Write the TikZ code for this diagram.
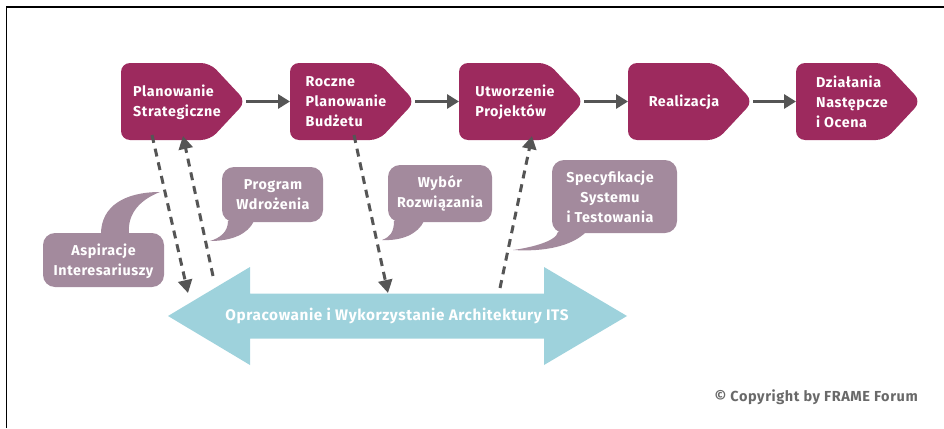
\documentclass[tikz,border=0pt]{standalone}
\usepackage{fontspec}
\setmainfont{Fira Sans}[LetterSpace=4]
\usetikzlibrary{arrows.meta}
\definecolor{stagecol}{RGB}{157,42,94}
\definecolor{notecol}{RGB}{163,138,157}
\definecolor{archcol}{RGB}{158,210,220}
\definecolor{linkcol}{RGB}{85,85,85}
\definecolor{copycol}{RGB}{105,105,105}
\tikzset{
  stagetext/.style={text=white, font=\bfseries\fontsize{14.3}{20}\selectfont, align=left, inner sep=0pt},
  notetext/.style={text=white, font=\bfseries\fontsize{14.3}{20}\selectfont, align=center, inner sep=0pt},
  flow/.style={draw=linkcol, line width=3pt, -{Triangle[length=12pt,width=14pt]}},
  feed/.style={draw=linkcol, line width=3pt, dash pattern=on 8pt off 6pt, -{Triangle[length=13pt,width=14pt]}},
  notefill/.style={fill=notecol},
}
% one process stage: name, left edge, caption
\newcommand\stagebox[3]{%
  \fill[stagecol, rounded corners=9pt] (#2,63) -- (#2+89,63) -- (#2+125,101.5) -- (#2+89,140) -- (#2,140) -- cycle;
  \node[stagetext] (#1) at (#2+56,102) {#3};
  \coordinate (#1-in) at (#2,101.5);
  \coordinate (#1-out) at (#2+125,101.5);
  \coordinate (#1-bot) at (#2+62,140);
}
\begin{document}
\begin{tikzpicture}[x=1pt,y=-1pt]
\useasboundingbox (0,0) rectangle (944,428);
% frame
\draw[line width=1.6pt] (6.5,428) -- (6.5,7) -- (944,7);

% process stages
\stagebox{s1}{121}{Planowanie\\Strategiczne}
\stagebox{s2}{290}{Roczne\\Planowanie\\Budżetu}
\stagebox{s3}{459}{Utworzenie\\Projektów}
\stagebox{s4}{628}{Realizacja}
\stagebox{s5}{796}{Działania\\Następcze\\i Ocena}

\draw[flow] (s1-out) -- (s2-in);
\draw[flow] (s2-out) -- (s3-in);
\draw[flow] (s3-out) -- (s4-in);
\draw[flow] (s4-out) -- (s5-in);

% architecture double arrow
\fill[archcol] (168,316) -- (250,267) -- (250,293.5) -- (544,293.5) -- (544,267) -- (627,316)
  -- (544,365) -- (544,338.5) -- (250,338.5) -- (250,365) -- cycle;
\node[text=white, font=\bfseries\fontsize{15.3}{17}\selectfont, inner sep=0pt] (arch) at (397,316)
  {Opracowanie i Wykorzystanie Architektury ITS};

% speech bubbles
\fill[notefill, rounded corners=12pt] (43,233) rectangle (164,287);
\fill[notefill] (101,234) .. controls (101,206) and (125,192) .. (160,192)
  .. controls (142,199) and (127,212) .. (129,234) -- cycle;
\node[notetext] (n1) at (103.5,261) {Aspiracje\\Interesariuszy};

\fill[notefill, rounded corners=12pt] (222,167) rectangle (323,222);
\fill[notefill] (228,221) .. controls (228,232) and (220,238) .. (210,241)
  .. controls (232,241) and (248,234) .. (254,221) -- cycle;
\node[notetext] (n2) at (273,195) {Program\\Wdrożenia};

\fill[notefill, rounded corners=12pt] (388,165) rectangle (492,222);
\fill[notefill] (394,221) .. controls (394,232) and (390,237) .. (382,240)
  .. controls (402,241) and (418,234) .. (424,221) -- cycle;
\node[notetext] (n3) at (440,193) {Wybór\\Rozwiązania};

\fill[notefill, rounded corners=12pt] (552,160) rectangle (677,233);
\fill[notefill] (558,232) .. controls (556,242) and (528,248) .. (513,250)
  .. controls (545,252) and (572,246) .. (586,232) -- cycle;
\node[notetext] (n4) at (610,197) {Specyfikacje\\Systemu\\i Testowania};

% feedback links between stages and the architecture
\coordinate (a1) at (188,293);
\coordinate (b1) at (213,276);
\coordinate (a2) at (388,293);
\coordinate (b2) at (500,288);
\draw[feed] ([xshift=-31pt,yshift=5pt]s1-bot) -- (a1);
\draw[feed] (b1) -- ([xshift=0pt,yshift=4pt]s1-bot);
\draw[feed] ([xshift=2pt,yshift=5pt]s2-bot) -- (a2);
\draw[feed] (b2) -- ([xshift=11pt,yshift=4pt]s3-bot);

% credit line
\node[text=copycol, font=\bfseries\fontsize{14.5}{16}\selectfont, anchor=east, inner sep=0pt] (copy) at (918,397)
  {© Copyright by FRAME Forum};
\end{tikzpicture}
\end{document}
